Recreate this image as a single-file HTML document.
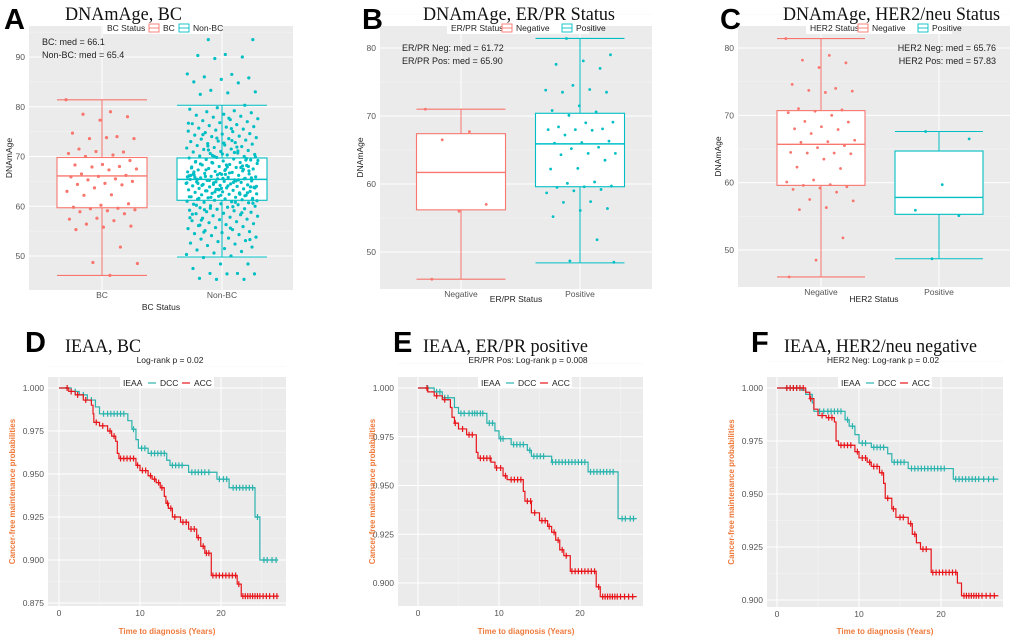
<!DOCTYPE html>
<html><head><meta charset="utf-8">
<style>
html,body{margin:0;padding:0;background:#fff;width:1020px;height:642px;overflow:hidden}
svg{display:block;font-family:"Liberation Sans",sans-serif}
.ttl{font-family:"Liberation Serif",serif;font-size:19px;fill:#111}
.lt{font-family:"Liberation Sans",sans-serif;font-weight:bold;font-size:29px;fill:#000}
.tk{font-size:8.5px;fill:#555}
.ax{font-size:8.5px;fill:#222}
.ann{font-size:9px;fill:#222}
.org{font-size:8px;fill:#EE7A3C;font-weight:bold}
</style></head>
<body>
<svg id="fig" width="1020" height="642" viewBox="0 0 1020 642">
<g id="titles">
<text class="lt" x="4" y="29">A</text>
<text class="ttl" x="65" y="20" textLength="117" lengthAdjust="spacingAndGlyphs">DNAmAge, BC</text>
<text class="lt" x="362" y="29">B</text>
<text class="ttl" x="423" y="20" textLength="192" lengthAdjust="spacingAndGlyphs">DNAmAge, ER/PR Status</text>
<text class="lt" x="720" y="29">C</text>
<text class="ttl" x="783" y="20" textLength="217" lengthAdjust="spacingAndGlyphs">DNAmAge, HER2/neu Status</text>
<text class="lt" x="25" y="352">D</text>
<text class="ttl" x="65" y="352" textLength="76" lengthAdjust="spacingAndGlyphs">IEAA, BC</text>
<text class="lt" x="393" y="352">E</text>
<text class="ttl" x="423" y="352" textLength="165" lengthAdjust="spacingAndGlyphs">IEAA, ER/PR positive</text>
<text class="lt" x="751" y="352">F</text>
<text class="ttl" x="784" y="352" textLength="193" lengthAdjust="spacingAndGlyphs">IEAA, HER2/neu negative</text>
</g>
</svg>
<script>
const RED='#F8766D', TEAL='#00BFC4', KRED='#E8161B', KTEAL='#2BB3AE';
// ---- Box plot data ----
const aCats=['BC','Non-BC'];
const aBC=[81.4,79,78.5,78,77.3,74.7,74,73.6,73.6,73.8,71.5,70.9,71,70.6,70.3,70,69.2,68.4,68.3,68,67.9,67.5,67.3,66.5,66.2,66,65.9,65.5,65.3,65,64.6,64.4,64.3,63.7,63,62.3,62.2,60.5,60.2,59.8,59.6,59.5,59.3,59.1,58.9,58.5,57.6,57.4,57.1,56.4,56,55.8,55.3,51.8,48.7,48.5,46.1];
const aNon=("93.5 93.5 90.5 90.3 90 89.7 86.6 86.5 86 85.8 85.5 85 84.8 83.3 83 82.8 82.5 80.3 79.8 79.5 79.2 79 78.8 78.5 78.3 78.1 77.9 77.6 77.4 77.2 77 76.8 76.6 76.4 76.2 76 75.9 75.7 75.5 75.3 75.1 75 74.8 74.6 74.5 74.3 74.1 74 73.8 73.6 73.5 73.3 73.1 73 72.8 72.6 72.5 72.3 72.2 72 71.8 71.7 71.5 71.4 71.2 71 70.9 70.7 70.6 70.4 70.3 70.1 70 69.8 69.7 69.5 69.4 69.3 69.1 69 68.8 68.7 68.6 68.4 68.3 68.2 68 67.9 67.8 67.6 67.5 67.4 67.3 67.1 67 66.9 66.8 66.6 66.5 66.4 66.3 66.2 66 65.9 65.8 65.7 65.6 65.5 65.4 65.3 65.2 65.1 65 64.9 64.8 64.7 64.6 64.5 64.4 64.3 64.2 64.1 64 63.9 63.8 63.7 63.6 63.5 63.4 63.3 63.2 63.1 63 62.9 62.8 62.7 62.6 62.5 62.4 62.3 62.2 62 61.9 61.8 61.7 61.6 61.5 61.4 61.3 61.2 61 60.9 60.8 60.7 60.5 60.4 60.3 60.1 60 59.8 59.7 59.5 59.4 59.2 59.1 58.9 58.8 58.6 58.5 58.3 58.1 58 57.8 57.6 57.4 57.3 57.1 56.9 56.7 56.5 56.3 56.1 55.9 55.7 55.5 55.3 55.1 54.9 54.7 54.5 54.3 54.1 53.8 53.6 53.4 53.1 52.9 52.6 52.4 52.1 51.8 51.5 51.2 50.9 50.6 50.3 50 49.7 48.4 48.4 47.5 46.5 46.5 46.4 46.4 45.5 45.3 45.3 "+
"66.1 64.8 67.3 63.9 65.6 68.9 62.4 70.2 61.1 66.7 64.2 69.6 63.3 67.7 65.1 71.3 60.6 66.4 64.6 68.1 62.9 65.9 73.2 59.3 67.1 63.6 66.9 65.3 61.8 69.9 64.1 68.5 62.1 66.3 57.7 70.8 63.1 65.7 72.7 60.2 67.8 64.4 69.2 55.6 74.4 62.7 66.6 58.4 71.9 65.2 63.8 68.3 61.6 67.4 64.9 76.7 59.9 66 53.3 70.5 65.8 62.6 68.8 64 77.7 57.2 69.3 63.4 66.2 60.8 72.1 61.3 67.2 65.4 58.7 70 64.7 75.6 54.8 68 62.2 66.5 71.1 59.6 63.7 67.9 56.2 65.5 73.7 61.9").split(' ').map(Number);
const bCats=['Negative','Positive'];
const bNeg=[71,67.7,66.5,57,56,46];
const bPos=[81.4,79,78.1,77.6,77,74.5,73.8,73.9,73.5,73.5,71.5,70.8,70.6,70.1,69.1,69,68.4,68.1,68,68,67.9,67.2,66.3,66.1,66,65.4,65.2,64.5,64.5,64.3,63.5,62.3,62.2,60.3,60.1,59.7,59.6,59.5,59.2,59,58.7,57.4,57.3,56.4,56.1,55.2,51.8,48.7,48.5];
const cCats=['Negative','Positive'];
const cNeg=[81.4,78.9,78.2,77.8,77.1,74.6,74,73.7,73.6,73.4,71,70.8,70.6,70.4,70,69.1,69,68.3,68,67.9,67.3,66.3,66.1,66,65.5,65.2,64.5,64.4,64.4,64.3,63.5,62.3,62.1,60.4,60.1,59.7,59.6,59.4,59.2,59,58.6,57.5,57.3,56.3,56,51.8,48.5,46];
const cPos=[67.6,66.5,59.7,55.9,55.1,48.7];
// box stats [lowWhisker, Q1, median, Q3, highWhisker]
const aStats=[[46.1,59.7,66.1,69.8,81.4],[49.8,61.2,65.4,69.7,80.3]];
const bStats=[[46,56.2,61.7,67.4,71],[48.4,59.6,65.9,70.4,81.4]];
const cStats=[[46,59.6,65.7,70.7,81.4],[48.7,55.3,57.8,64.7,67.6]];
const aTicks=[50,60,70,80,90], bTicks=[50,60,70,80], cTicks=[50,60,70,80];

// ---- KM data ----
const dDccT=[1.5,2.5,3.5,4.5,5,8.5,9,9.5,9.8,11,13.3,13.7,16,19.5,21,24.2,24.8];
const dDccS=[0.998,0.996,0.993,0.989,0.985,0.981,0.976,0.970,0.965,0.962,0.958,0.955,0.951,0.947,0.942,0.925,0.900];
const dAccT=[1.2,2,3,4,4.2,4.3,5,6,6.5,7,7.2,7.4,9.5,10,11,11.5,12,12.5,13,13.2,13.5,14,15,16,17,17.5,18,18.8,22,22.5];
const dAccS=[0.998,0.996,0.993,0.990,0.985,0.980,0.978,0.975,0.972,0.969,0.962,0.959,0.955,0.952,0.949,0.947,0.945,0.942,0.937,0.933,0.930,0.925,0.922,0.918,0.913,0.908,0.904,0.891,0.886,0.879];
const dDccC=[1,2,3,4,5.5,6,6.4,6.8,7.2,7.6,8,9.2,10.2,10.6,11.4,11.8,12.2,12.6,13,14,14.4,14.8,15.2,16.4,16.8,17.2,17.6,18,18.5,19.8,20.3,20.7,21.5,21.9,22.3,22.7,23.1,23.5,23.9,24.5,25.3,25.7,26.3,26.8];
const dAccC=[1,1.5,2.3,3.3,4.6,5.4,6.3,6.8,7.6,8,8.4,8.8,9.2,9.7,10.3,10.7,11.3,11.8,12.3,12.7,13.4,13.8,14.3,15.3,15.7,16.3,16.7,17.2,17.8,18.2,18.5,19,19.4,19.8,20.2,20.6,21,21.4,21.8,22.2,22.7,23,23.3,23.6,23.9,24.2,24.5,24.8,25.2,25.6,26,26.5,26.9];
const eDccT=[2,3,4.5,5,8.5,9.5,10,11.5,13.5,14,16.5,21,24.7];
const eDccS=[0.998,0.995,0.990,0.987,0.982,0.978,0.974,0.971,0.968,0.965,0.962,0.957,0.933];
const eAccT=[1.2,2,3,4,4.2,4.5,5,6,7.2,7.4,9,9.5,10.5,11,13,13.2,14,15,16,16.5,17,17.5,18,18.8,22,22.5];
const eAccS=[0.998,0.996,0.994,0.990,0.985,0.982,0.979,0.976,0.967,0.964,0.962,0.959,0.955,0.953,0.947,0.942,0.936,0.932,0.929,0.926,0.922,0.917,0.914,0.906,0.898,0.893];
const eDccC=[1.2,2.3,2.7,3.3,3.7,5.3,5.7,6.3,6.7,7,7.3,7.7,8,8.8,9.2,10.2,10.5,11.8,12.2,12.6,13,13.8,14.3,14.7,15.1,15.5,16.6,17,17.4,17.8,18.2,18.6,19,19.4,19.8,20.2,20.6,21.3,21.7,22.1,22.5,22.9,23.3,23.7,24.1,25.2,25.6,26.2,26.6];
const eAccC=[1.1,2.3,3.3,4.6,5.5,6.3,6.7,7.7,8.1,8.5,8.9,9.7,10.2,10.8,11.5,11.9,12.3,12.7,13.5,13.9,14.4,15.3,15.7,16.2,16.8,17.3,17.8,18.3,19,19.4,19.8,20.2,20.6,21,21.4,21.8,22.3,22.8,23.1,23.4,23.7,24,24.3,24.6,25,25.5,26,26.5];
const fDccT=[3,3.5,4.3,4.5,8.3,8.8,9.5,10,11.5,13.5,14,16,21.5];
const fDccS=[0.999,0.997,0.993,0.989,0.985,0.982,0.978,0.974,0.972,0.969,0.965,0.962,0.957];
const fAccT=[3.5,4,4.5,5,6,7,7.2,7.5,9.5,10,11,11.5,12.5,13,13.2,14,14.5,16,16.5,17,17.5,18.8,22,22.5];
const fAccS=[0.998,0.995,0.990,0.987,0.986,0.984,0.975,0.973,0.970,0.967,0.965,0.963,0.960,0.955,0.948,0.943,0.939,0.936,0.931,0.927,0.924,0.913,0.908,0.902];
const fDccC=[1.2,1.6,2,2.4,2.8,5.2,5.7,6.2,6.6,7,7.4,7.8,8.6,9.2,10.4,10.8,11.8,12.2,12.6,13,14.3,14.7,15.1,15.5,16.4,16.8,17.2,17.6,18,18.4,18.8,19.2,19.6,20,20.4,21.8,22.2,22.6,23,23.4,23.8,24.2,24.6,25.2,25.8,26.4];
const fAccC=[1.2,1.6,2,2.4,2.8,3.2,4.1,5.5,6.3,6.7,7.8,8.2,8.6,9,9.8,10.4,10.8,11.3,11.8,12.2,12.8,13.5,14.2,15,15.4,16.3,16.8,17.8,18.2,19,19.4,19.8,20.2,20.6,21,21.4,21.8,22.8,23.1,23.4,23.7,24,24.3,24.6,25,25.5,26,26.5];
const kmXTicks=[0,10,20];
const dYTicks=[0.875,0.900,0.925,0.950,0.975,1.000];
const eYTicks=[0.900,0.925,0.950,0.975,1.000];
const fYTicks=[0.900,0.925,0.950,0.975,1.000];

const NS='http://www.w3.org/2000/svg';
const svg=document.getElementById('fig');
function el(tag,attrs,parent){const e=document.createElementNS(NS,tag);for(const k in attrs)e.setAttribute(k,attrs[k]);(parent||svg).appendChild(e);return e;}
function lin(v1,p1,v2,p2){return v=>p1+(v-v1)*(p2-p1)/(v2-v1);}

function boxPanel(o){
  const g=el('g',{});
  
  
  const y=lin(o.v1,o.p1,o.v2,o.p2);
  const bg=el('rect',{x:o.x0,y:o.y0,width:o.x1-o.x0,height:o.y1-o.y0,fill:'#EBEBEB'},g);
  
  
  for(let i=0;i<o.ticks.length;i++){
    const t=o.ticks[i];
    const gl=el('line',{x1:o.x0,x2:o.x1,y1:y(t),y2:y(t),stroke:'#fff','stroke-width':1},g);
    
    
    const mn=el('line',{x1:o.x0,x2:o.x1,y1:y(t+5),y2:y(t+5),stroke:'#F6F6F6','stroke-width':0.5},g);
    
    
    const tx=el('text',{x:o.x0-4,y:y(t)+3,'text-anchor':'end',class:'tk'},g);
    tx.textContent=t;
    
    
  }
  const xs=o.xs, bw=o.bw;
  for(let c=0;c<2;c++){
    const x=xs[c], s=o.stats[c], col=o.cols[c];
    const vl=el('line',{x1:x,x2:x,y1:o.y0,y2:o.y1,stroke:'#fff','stroke-width':1},g);
    
    
    const w=el('line',{x1:x,x2:x,y1:y(s[0]),y2:y(s[4]),stroke:col,'stroke-width':1},g);
    
    
    for(const v of [s[0],s[4]]){
      const cap=el('line',{x1:x-bw/2,x2:x+bw/2,y1:y(v),y2:y(v),stroke:col,'stroke-width':1.1},g);
      
      
    }
    const b=el('rect',{x:x-bw/2,y:y(s[3]),width:bw,height:y(s[1])-y(s[3]),fill:'#fff',stroke:col,'stroke-width':1.1},g);
    
    
    const m=el('line',{x1:x-bw/2,x2:x+bw/2,y1:y(s[2]),y2:y(s[2]),stroke:col,'stroke-width':1.4},g);
    
    
    const pts=o.pts[c];
    for(let i=0;i<pts.length;i++){
      const jx=(((i*0.6180339+c*0.31)%1)-0.5)*bw*0.8;
      const p=el('circle',{cx:x+jx,cy:y(pts[i]),r:o.r,fill:col},g);
      
      
    }
    const xl=el('text',{x:x,y:o.y1+8,'text-anchor':'middle',class:'tk'},g);
    xl.textContent=o.cats[c];
    
    
  }
  const xt=el('text',{x:(o.x0+o.x1)/2,y:o.xtY,'text-anchor':'middle',class:'ax'},g);
  xt.textContent=o.xtitle;
  
  
  const yt=el('text',{x:0,y:0,'text-anchor':'middle',class:'ax',transform:`translate(${o.x0-17},${(o.y0+o.y1)/2}) rotate(-90)`},g);
  yt.textContent='DNAmAge';
  
  
  const lg=el('g',{},g);
  
  
  el('rect',{x:o.lx,y:22,width:o.lw,height:12,fill:'#fff'},lg);
  const lt=el('text',{x:o.lx+4,y:31,class:'tk',fill:'#222'},lg);
  lt.textContent=o.ltitle;lt.style.fill='#222';
  let cx=o.lx+o.lo;
  for(let c=0;c<2;c++){
    const k=el('rect',{x:cx,y:24,width:10,height:8,fill:'#fff',stroke:o.cols[c],'stroke-width':0.9},lg);
    
    
    el('line',{x1:cx,x2:cx+10,y1:28,y2:28,stroke:o.cols[c],'stroke-width':0.9},lg);
    const t=el('text',{x:cx+14,y:31,class:'tk'},lg);
    t.textContent=o.cats[c];t.style.fill='#222';
    
    
    cx+=14+o.cats[c].length*5.0+6;
  }
  for(let i=0;i<o.ann.length;i++){
    const a=el('text',{x:o.annX,y:o.annY+i*13,class:'ann','text-anchor':o.annAnchor},g);
    a.textContent=o.ann[i];
    
    
  }
}
boxPanel({name:'panel-a',x0:29,x1:293,y0:26,y1:290,v1:90,p1:57,v2:50,p2:256,ticks:aTicks,xs:[102,222],bw:90,stats:aStats,pts:[aBC,aNon],cols:[RED,TEAL],cats:aCats,r:1.6,xtitle:'BC Status',xtY:310,lx:103,lw:117,ltitle:'BC Status',lo:46,ann:['BC: med = 66.1','Non-BC: med = 65.4'],annX:42,annY:45,annAnchor:'start'});
boxPanel({name:'panel-b',x0:380,x1:652,y0:26,y1:289,v1:80,p1:48,v2:50,p2:252,ticks:bTicks,xs:[461,580],bw:89,stats:bStats,pts:[bNeg,bPos],cols:[RED,TEAL],cats:bCats,r:1.4,xtitle:'ER/PR Status',xtY:302,lx:447,lw:142,ltitle:'ER/PR Status',lo:55,ann:['ER/PR Neg: med = 61.72','ER/PR Pos: med = 65.90'],annX:402,annY:51,annAnchor:'start'});
boxPanel({name:'panel-c',x0:738,x1:1010,y0:26,y1:287,v1:80,p1:48,v2:50,p2:250,ticks:cTicks,xs:[821,939],bw:88,stats:cStats,pts:[cNeg,cPos],cols:[RED,TEAL],cats:cCats,r:1.4,xtitle:'HER2 Status',xtY:302,lx:806,lw:146,ltitle:'HER2 Status',lo:52,ann:['HER2 Neg: med = 65.76','HER2 Pos: med = 57.83'],annX:996,annY:51,annAnchor:'end'});

function survAt(T,S,t){let s=1;for(let i=0;i<T.length;i++){if(T[i]<=t)s=S[i];}return s;}
function kmPanel(o){
  const g=el('g',{});
  
  
  const x=lin(0,o.xp0,10,o.xp10), y=lin(o.yv1,o.yp1,o.yv2,o.yp2);
  const bg=el('rect',{x:o.x0,y:o.y0,width:o.x1-o.x0,height:o.y1-o.y0,fill:'#EBEBEB'},g);
  
  
  for(const t of o.yt){
    const gl=el('line',{x1:o.x0,x2:o.x1,y1:y(t),y2:y(t),stroke:'#fff','stroke-width':1},g);
    
    
    const mn=el('line',{x1:o.x0,x2:o.x1,y1:y(t+0.0125),y2:y(t+0.0125),stroke:'#F5F5F5','stroke-width':0.5},g);
    
    
    const tx=el('text',{x:o.x0-4,y:y(t)+3,'text-anchor':'end',class:'tk'},g);
    tx.textContent=t.toFixed(3);
    
    
  }
  for(const t of o.xt.concat([5,15,25])){
    const major=o.xt.includes(t);
    const gl=el('line',{x1:x(t),x2:x(t),y1:o.y0,y2:o.y1,stroke:major?'#fff':'#F5F5F5','stroke-width':major?1:0.5},g);
    
    
    if(major){
      const tx=el('text',{x:x(t),y:o.y1+10,'text-anchor':'middle',class:'tk'},g);
      tx.textContent=t;
      
      
    }
  }
  const series=[[o.dT,o.dS,o.dC,KTEAL,'dcc'],[o.aT,o.aS,o.aC,KRED,'acc']];
  for(const [T,S,C,col,nm] of series){
    let d=`M${x(0)},${y(1)}`;
    for(let i=0;i<T.length;i++){d+=` H${x(T[i])} V${y(S[i])}`;}
    d+=` H${x(o.end)}`;
    const p=el('path',{d:d,fill:'none',stroke:col,'stroke-width':1.2},g);
    
    
    for(const t of C){
      const cx=x(t), cy=y(survAt(T,S,t));
      const m=el('path',{d:`M${cx},${cy-3} V${cy+3} M${cx-2},${cy} H${cx+2}`,stroke:col,'stroke-width':1.2},g);
      
      
    }
  }
  const pt=el('text',{x:o.ptX,y:363,'text-anchor':'middle',class:'tk'},g);
  pt.textContent=o.ptxt;pt.style.fill='#222';
  
  
  const lg=el('g',{},g);
  
  
  el('rect',{x:o.lx,y:377,width:94,height:11,fill:'#fff'},lg);
  const l1=el('text',{x:o.lx+3,y:386,class:'tk'},lg);l1.textContent='IEAA';l1.style.fill='#222';
  el('line',{x1:o.lx+28,x2:o.lx+36,y1:383,y2:383,stroke:KTEAL,'stroke-width':1.2},lg);
  const l2=el('text',{x:o.lx+40,y:386,class:'tk'},lg);l2.textContent='DCC';l2.style.fill='#222';
  
  
  el('line',{x1:o.lx+62,x2:o.lx+70,y1:383,y2:383,stroke:KRED,'stroke-width':1.2},lg);
  const l3=el('text',{x:o.lx+74,y:386,class:'tk'},lg);l3.textContent='ACC';l3.style.fill='#222';
  
  
  const xt=el('text',{x:o.xtX,y:634,'text-anchor':'middle',class:'org'},g);
  xt.textContent='Time to diagnosis (Years)';
  
  
  const yt=el('text',{x:0,y:0,'text-anchor':'middle',class:'org',transform:`translate(${o.ytX},${(o.y0+o.y1)/2}) rotate(-90)`},g);
  yt.textContent='Cancer-free maintenance probabilities';
  
  
}
kmPanel({name:'panel-d',x0:48,x1:286,y0:377,y1:606,xp0:59,xp10:140,yv1:1,yp1:388,yv2:0.875,yp2:603,yt:dYTicks,xt:kmXTicks,end:27,dT:dDccT,dS:dDccS,dC:dDccC,aT:dAccT,aS:dAccS,aC:dAccC,ptX:170,ptxt:'Log-rank p = 0.02',lx:120,xtX:167,ytX:15});
kmPanel({name:'panel-e',x0:398,x1:643,y0:377,y1:606,xp0:418,xp10:499,yv1:1,yp1:388,yv2:0.9,yp2:583,yt:eYTicks,xt:kmXTicks,end:27,dT:eDccT,dS:eDccS,dC:eDccC,aT:eAccT,aS:eAccS,aC:eAccC,ptX:528,ptxt:'ER/PR Pos: Log-rank p = 0.008',lx:478,xtX:526,ytX:375});
kmPanel({name:'panel-f',x0:767,x1:1003,y0:377,y1:607,xp0:777,xp10:859,yv1:1,yp1:388,yv2:0.9,yp2:600,yt:fYTicks,xt:kmXTicks,end:27,dT:fDccT,dS:fDccS,dC:fDccC,aT:fAccT,aS:fAccS,aC:fAccC,ptX:883,ptxt:'HER2 Neg: Log-rank p = 0.02',lx:838,xtX:885,ytX:734});
svg.appendChild(document.getElementById('titles'));
</script>
</body></html>
